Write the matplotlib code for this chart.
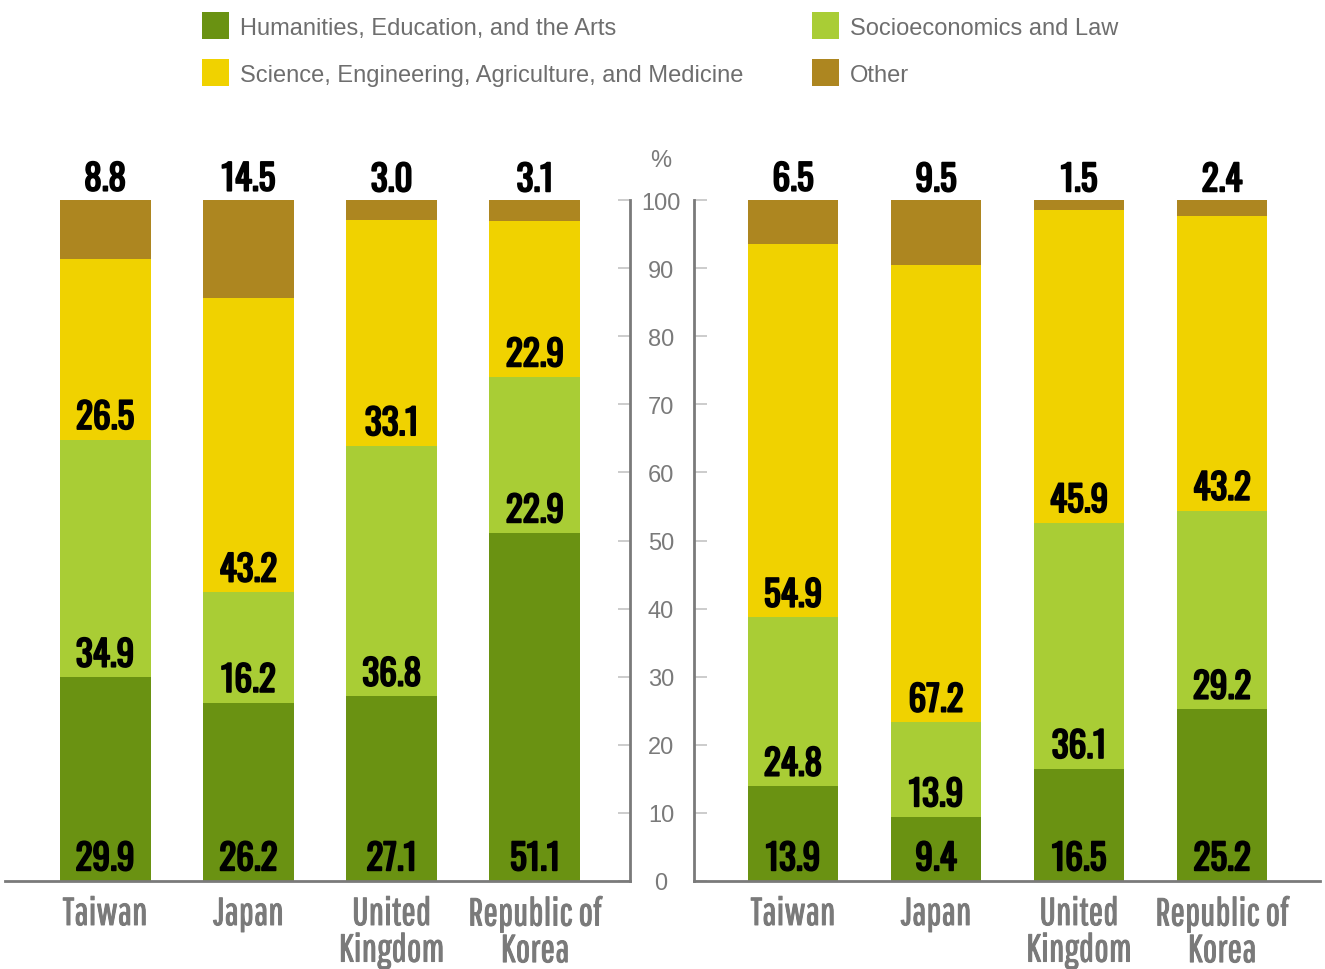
import numpy as np
import matplotlib
matplotlib.use('Agg')
import matplotlib.pyplot as plt
from matplotlib.patches import Rectangle
import matplotlib.transforms as mtransforms
import matplotlib.patheffects as pe

countries = ['Taiwan', 'Japan', 'United\nKingdom', 'Republic of\nKorea']
series_names = ['Humanities, Education, and the Arts',
                'Socioeconomics and Law',
                'Science, Engineering, Agriculture, and Medicine',
                'Other']

# left panel
hum_left = [29.9, 26.2, 27.1, 51.1]
soc_left = [34.9, 16.2, 36.8, 22.9]
sci_left = [26.5, 43.2, 33.1, 22.9]
oth_left = [8.8, 14.5, 3.0, 3.1]

# right panel
hum_right = [13.9, 9.4, 16.5, 25.2]
soc_right = [24.8, 13.9, 36.1, 29.2]
sci_right = [54.9, 67.2, 45.9, 43.2]
oth_right = [6.5, 9.5, 1.5, 2.4]

y_ticks = [0, 10, 20, 30, 40, 50, 60, 70, 80, 90, 100]

colors = ['#6a9212', '#a9cd35', '#f0d200', '#ad8620']
GRAY = '#7a7a7a'
NUM_FONT = ['Oswald', 'Roboto Condensed', 'DejaVu Sans']
CAT_FONT = ['Pathway Gothic One', 'Roboto Condensed', 'DejaVu Sans']
TXT_FONT = ['Liberation Sans', 'DejaVu Sans']

W, H = 1325, 970
fig = plt.figure(figsize=(W / 100, H / 100), dpi=100)


def px_axes(x0, x1, y_top, y_bot):
    return fig.add_axes([x0 / W, (H - y_bot) / H, (x1 - x0) / W, (y_bot - y_top) / H])


ax_l = px_axes(5, 630, 201, 882)
ax_r = px_axes(694, 1320, 201, 882)
bold = [pe.withStroke(linewidth=1.3, foreground='black')]
semibold = [pe.withStroke(linewidth=0.7, foreground=GRAY)]


def draw_panel(ax, series, xlim, spine_side):
    x = np.arange(len(countries))
    bottom = np.zeros(len(countries))
    for i, vals in enumerate(series):
        vals = np.array(vals)
        ax.bar(x, vals, width=0.635, bottom=bottom, color=colors[i], linewidth=0)
        for xi, b, v in zip(x, bottom, vals):
            y = b + 3.7 if i < 3 else b + v + 3.4
            ax.text(xi, y, f'{v:.1f}', ha='center', va='center_baseline',
                    fontsize=25.5, fontweight='bold', family=NUM_FONT,
                    color='black', clip_on=False, path_effects=bold)
        bottom += vals
    for xi, name in zip(x, countries):
        ax.text(xi, -2.2, name, ha='center', va='top', fontsize=28,
                family=CAT_FONT, color=GRAY, linespacing=1.02,
                path_effects=semibold)
    ax.set_xlim(*xlim)
    ax.set_ylim(0, 100)
    ax.set_xticks([])
    ax.set_yticks(y_ticks)
    ax.tick_params(axis='y', direction='in', length=9, width=1.2,
                   color='#c4c4c4', labelleft=False, labelright=False,
                   left=(spine_side == 'left'), right=(spine_side == 'right'))
    for s in ['top', 'left', 'right']:
        ax.spines[s].set_visible(False)
    for s in ['bottom', spine_side]:
        ax.spines[s].set_visible(True)
        ax.spines[s].set_color(GRAY)
        ax.spines[s].set_linewidth(2)
    ax.patch.set_alpha(0)


draw_panel(ax_l, [hum_left, soc_left, sci_left, oth_left], (-0.698, 3.663), 'right')
draw_panel(ax_r, [hum_right, soc_right, sci_right, oth_right], (-0.692, 3.685), 'left')

# shared tick labels in the middle
trans = mtransforms.blended_transform_factory(fig.transFigure, ax_l.transData)
for t in y_ticks:
    fig.text(661 / W, t, str(t), transform=trans, ha='center', va='center_baseline',
             fontsize=17, family=TXT_FONT, color=GRAY)
fig.text(661 / W, 106.2, '%', transform=trans, ha='center', va='center_baseline',
         fontsize=17, family=TXT_FONT, color=GRAY)

# legend
legend_pos = [(202, 26.5), (812, 26.5), (202, 73.5), (812, 73.5)]
for (lx, ly), k in zip(legend_pos, range(4)):
    fig.add_artist(Rectangle((lx / W, (H - ly - 13.5) / H), 27 / W, 27 / H,
                             transform=fig.transFigure, color=colors[k], lw=0))
    fig.text((lx + 38) / W, (H - ly) / H, series_names[k], ha='left', va='center_baseline',
             fontsize=17, family=TXT_FONT, color='#6e6e6e')

fig.savefig('out.png', dpi=100)
